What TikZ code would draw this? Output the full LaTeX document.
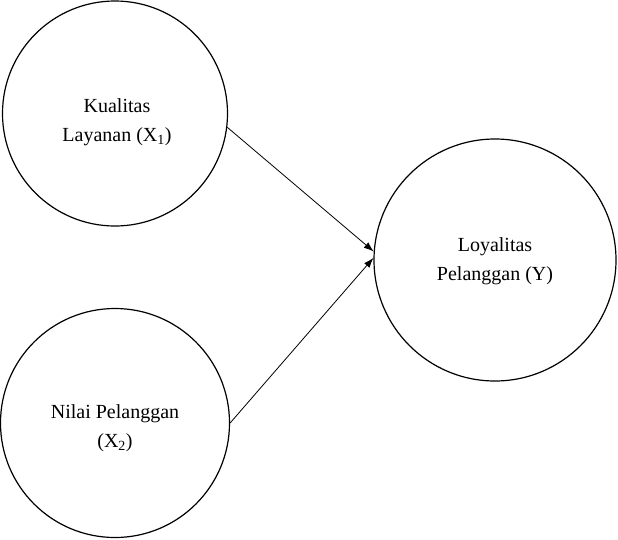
\documentclass[tikz,border=0pt]{standalone}
\usepackage{fontspec}
\setmainfont{Liberation Serif}
\usetikzlibrary{arrows.meta}
\tikzset{
  var/.style={circle, draw, line width=1.2pt, inner sep=0pt},
  txt/.style={inner sep=0pt, align=center, font=\fontsize{20}{29}\selectfont},
  link/.style={line width=0.8pt, -{Latex[length=10pt,width=7pt]}}
}
\begin{document}
\begin{tikzpicture}[x=1pt,y=-1pt]
\useasboundingbox (0,0) rectangle (618,539);
\node[var, minimum size=225pt] (k) at (115,113.5) {};
\node[var, minimum size=229pt] (n) at (115,423) {};
\node[var, minimum size=242pt] (y) at (495,260) {};
\node[txt] (kt) at (117,122) {Kualitas\\Layanan (X\textsubscript{1})};
\node[txt] (nt) at (115,428) {Nilai Pelanggan\\(X\textsubscript{2})};
\node[txt] (yt) at (495,261) {Loyalitas\\Pelanggan (Y)};
\draw[link] (k.-7) -- (y.176);
\draw[link] (n.0) -- (y.179);
\end{tikzpicture}
\end{document}
